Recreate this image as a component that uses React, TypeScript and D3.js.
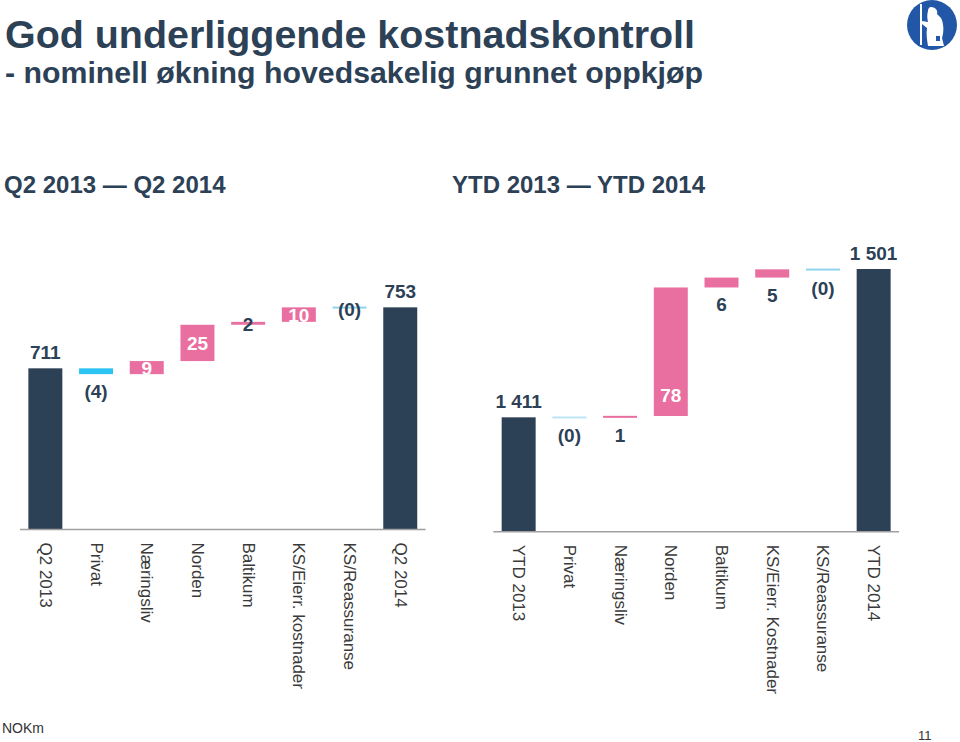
import React from "react";
import * as d3 from "d3";

// ---------- DATA ----------
const leftCategories = ["Q2 2013", "Privat", "Næringsliv", "Norden", "Baltikum", "KS/Eierr. kostnader", "KS/Reassuranse", "Q2 2014"];
const leftStart = 711;
const leftDeltas = [-4, 9, 25, 2, 10, -0.3];
const leftEnd = 753;

const rightCategories = ["YTD 2013", "Privat", "Næringsliv", "Norden", "Baltikum", "KS/Eierr. Kostnader", "KS/Reassuranse", "YTD 2014"];
const rightStart = 1411;
const rightDeltas = [-0.2, 1, 78, 6, 5, -0.3];
const rightEnd = 1501;

const titleText = "God underliggende kostnadskontroll";
const subtitleText = "- nominell økning hovedsakelig grunnet oppkjøp";
const leftHeader = "Q2 2013 — Q2 2014";
const rightHeader = "YTD 2013 — YTD 2014";
const unitText = "NOKm";
const pageNumber = "11";

// ---------- STYLE ----------
const FONT = "'Liberation Sans', Arial, Helvetica, sans-serif";
const DARK = "#2c4156";
const PINK = "#e96fa0";
const CYAN = "#2cc4f2";
const LIGHT_CYAN = "#8fd3ee";
const AXIS = "#a0a0a0";
const CAT_COLOR = "#3a3a3a";

type Item = { cat: string; from: number; to: number; value: number; kind: "total" | "delta" };

function buildWaterfall(cats: string[], start: number, deltas: number[], end: number): Item[] {
  const items: Item[] = [];
  items.push({ cat: cats[0], from: 0, to: start, value: start, kind: "total" });
  let cum = start;
  deltas.forEach((d, i) => {
    items.push({ cat: cats[i + 1], from: cum, to: cum + d, value: d, kind: "delta" });
    cum += d;
  });
  items.push({ cat: cats[cats.length - 1], from: 0, to: end, value: end, kind: "total" });
  return items;
}

const fmtTotal = (n: number) => Math.round(n).toString().replace(/\B(?=(\d{3})+(?!\d))/g, " ");
const fmtDelta = (v: number) => (v < 0 ? `(${Math.abs(Math.round(v))})` : `${Math.round(v)}`);

type ChartProps = {
  items: Item[];
  x0: number;
  x1: number;
  baseline: number;
  domain: [number, number];
  topPx: number;
  mode: "left" | "right";
};

function Waterfall({ items, x0, x1, baseline, domain, topPx, mode }: ChartProps) {
  const x = d3
    .scaleBand<string>()
    .domain(items.map((d) => d.cat))
    .range([x0, x1])
    .paddingInner(0.33)
    .paddingOuter(0.165);
  const y = d3.scaleLinear().domain(domain).range([baseline, topPx]);
  const bw = x.bandwidth();

  return (
    <g>
      {items.map((d, i) => {
        const bx = x(d.cat) as number;
        const cx = bx + bw / 2;
        let yTop: number, yBot: number;
        if (d.kind === "total") {
          yTop = y(d.to);
          yBot = baseline;
        } else {
          yTop = y(Math.max(d.from, d.to));
          yBot = y(Math.min(d.from, d.to));
          if (yBot - yTop < 2) {
            const mid = (yTop + yBot) / 2;
            yTop = mid - 1;
            yBot = mid + 1;
          }
        }
        const h = yBot - yTop;
        let fill = DARK;
        let opacity = 1;
        if (d.kind === "delta") {
          if (d.value >= 0) fill = PINK;
          else fill = Math.abs(d.value) < 1 ? LIGHT_CYAN : CYAN;
          if (d.value < 0 && Math.abs(d.value) < 0.25) opacity = 0.6;
        }

        let label: React.ReactNode = null;
        const common = { fontFamily: FONT, fontWeight: 700, fontSize: 19, textAnchor: "middle" as const };
        if (d.kind === "total") {
          label = (
            <text x={cx} y={yTop - 9} fill={DARK} {...common}>
              {fmtTotal(d.value)}
            </text>
          );
        } else if (mode === "left") {
          if (Math.abs(d.value) < 3) {
            label = (
              <text x={cx} y={(yTop + yBot) / 2 + 8} fill={DARK} {...common}>
                {fmtDelta(d.value)}
              </text>
            );
          } else if (d.value < 0) {
            label = (
              <text x={cx} y={yBot + 24} fill={DARK} {...common}>
                {fmtDelta(d.value)}
              </text>
            );
          } else {
            label = (
              <text x={cx} y={(yTop + yBot) / 2 + 7} fill="#ffffff" {...common}>
                {fmtDelta(d.value)}
              </text>
            );
          }
        } else {
          if (h > 40) {
            label = (
              <text x={cx} y={yBot - 14} fill="#ffffff" {...common}>
                {fmtDelta(d.value)}
              </text>
            );
          } else {
            label = (
              <text x={cx} y={yBot + 24} fill={DARK} {...common}>
                {fmtDelta(d.value)}
              </text>
            );
          }
        }

        return (
          <g key={i}>
            <rect x={bx} y={yTop} width={bw} height={h} fill={fill} opacity={opacity} />
            {label}
            <text
              transform={`translate(${cx},${baseline + 13}) rotate(90)`}
              fontFamily={FONT}
              fontSize={17}
              fill={CAT_COLOR}
              dominantBaseline="central"
              textAnchor="start"
            >
              {d.cat}
            </text>
          </g>
        );
      })}
      <line x1={x0} x2={x1} y1={baseline} y2={baseline} stroke={AXIS} strokeWidth={1.5} />
    </g>
  );
}

export default function App() {
  const leftItems = buildWaterfall(leftCategories, leftStart, leftDeltas, leftEnd);
  const rightItems = buildWaterfall(rightCategories, rightStart, rightDeltas, rightEnd);

  return (
    <svg
      width={960}
      height={742}
      viewBox="0 0 960 742"
      style={{ position: "absolute", left: 0, top: 0, background: "#ffffff" }}
    >
      <rect x={0} y={0} width={960} height={742} fill="#ffffff" />
      <text x={5} y={48} fontFamily={FONT} fontWeight={700} fontSize={38} fill={DARK} textLength={690} lengthAdjust="spacingAndGlyphs">
        {titleText}
      </text>
      <text x={5} y={83} fontFamily={FONT} fontWeight={700} fontSize={29} fill={DARK} textLength={698} lengthAdjust="spacingAndGlyphs">
        {subtitleText}
      </text>

      {/* logo */}
      <g>
        <circle cx={932} cy={25} r={25} fill="#2157a6" />
        <line x1={921} y1={4} x2={921} y2={45} stroke="#ffffff" strokeWidth={2} />
        <path
          d="M931 7 C936 7 938 11 937 14 L941 18 C944 24 944 32 942 38 L944 46 L928 46 C927 40 926 34 927 28 L922 24 L922 21 L928 22 C927 18 927 14 928 11 C928 9 929 7 931 7 Z"
          fill="#ffffff"
        />
        <rect x={936} y={36} width={4} height={5} fill="#2157a6" />
      </g>

      <text x={4} y={193} fontFamily={FONT} fontWeight={700} fontSize={24} fill={DARK}>
        {leftHeader}
      </text>
      <text x={452} y={193} fontFamily={FONT} fontWeight={700} fontSize={24} fill={DARK}>
        {rightHeader}
      </text>

      <Waterfall items={leftItems} x0={20} x1={425.6} baseline={529.5} domain={[600, 760]} topPx={529.5 - 160 * 1.452} mode="left" />
      <Waterfall items={rightItems} x0={493.3} x1={899} baseline={531.7} domain={[1341.6, 1510]} topPx={531.7 - (1510 - 1341.6) * 1.648} mode="right" />

      <text x={2} y={733} fontFamily={FONT} fontSize={14} fill="#333333">
        {unitText}
      </text>
      <text x={918} y={740} fontFamily={FONT} fontSize={13} fill="#333333">
        {pageNumber}
      </text>
    </svg>
  );
}
